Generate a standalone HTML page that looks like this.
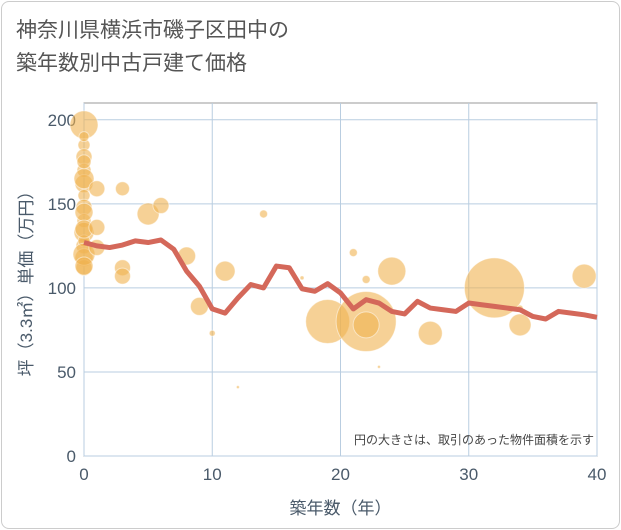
<!DOCTYPE html>
<html><head><meta charset="utf-8"><style>
body{margin:0;background:#fff;font-family:"Liberation Sans","Noto Sans CJK JP",sans-serif;}
#card{position:absolute;left:1px;top:1px;width:617px;height:526px;border:1px solid #ccc;border-radius:8px;background:#fff;}
#title{position:absolute;left:16px;top:14px;font-size:21px;line-height:33px;color:#555;}
</style></head><body>
<div id="card"></div>
<div id="title">神奈川県横浜市磯子区田中の<br>築年数別中古戸建て価格</div>
<svg id="chart" width="621" height="530" style="position:absolute;left:0;top:0"></svg>
<script>
const lineYears=[0,1,2,3,4,5,6,7,8,9,10,11,12,13,14,15,16,17,18,19,20,21,22,23,24,25,26,27,28,29,30,31,32,33,34,35,36,37,38,39,40];
const lineValues=[127,125,124,125.5,128,127,128.5,123,110,101,87.5,85,94,102,100,113,112,99.5,98,102.5,97,87.5,93,91,86,84.5,92,88,87,86,91,90,89,88,87,83,81.5,86,85,84,82.5];
const bubbleYears=[0,0,0,0,0,0,0,0,0,0,0,0,0,0,0,0,0,0,0,0,1,1,1,3,3,3,5,6,8,9,10,11,12,14,17,19,21,22,22,22,23,24,27,32,34,34,39];
const bubbleValues=[197,185,178,170,162,155,148,140,133,125,118,112,128,190,165,145,120,135,113,175,159,136,124,159,112,107,144,149,119,89,73,110,41,144,106,80,121,80,78,105,53,110,73,100,78,88,107];
const bubbleRadii=[14,6,8,7,9,6,8,7,10,8,9,8,6,5,10,9,11,9,9,7,8,8,8,7,8,8,11,8,9,9,3,10,1.5,4,2,22,4,30,13,4,1.5,14,12,30,11,3,12];
const xTicks=[0,10,20,30,40];
const yTicks=[0,50,100,150,200];
const L=84,R=597,T=103,B=456,XMAX=40,YMAX=210;
const sx=v=>L+v/XMAX*(R-L);
const sy=v=>B-v/YMAX*(B-T);
const svg=document.getElementById('chart');
const NS='http://www.w3.org/2000/svg';
function mk(tag,attrs){const e=document.createElementNS(NS,tag);for(const k in attrs)e.setAttribute(k,attrs[k]);svg.appendChild(e);return e;}
const bg=mk('rect',{x:L,y:T,width:R-L,height:B-T,fill:'#fff',stroke:'#999','stroke-width':1});


xTicks.forEach(t=>{
 const g=mk('line',{x1:sx(t),x2:sx(t),y1:T,y2:B,stroke:'#b9cde0','stroke-width':1});
 
 
 const tx=mk('text',{x:sx(t),y:B+24,'text-anchor':'middle','font-size':17,fill:'#4a5a6a'});
 tx.textContent=t;
 
 
});
yTicks.forEach(t=>{
 const g=mk('line',{x1:L,x2:R,y1:sy(t),y2:sy(t),stroke:'#b9cde0','stroke-width':1});
 
 
 const tx=mk('text',{x:L-8,y:sy(t)+6,'text-anchor':'end','font-size':17,fill:'#4a5a6a'});
 tx.textContent=t;
 
 
});
bubbleYears.forEach((yr,i)=>{
 const c=mk('circle',{cx:sx(yr),cy:sy(bubbleValues[i]),r:bubbleRadii[i],fill:'rgba(240,178,80,0.6)',stroke:'rgba(255,255,255,0.5)','stroke-width':1});
 
 
});
const pl=mk('polyline',{points:lineYears.map((y,i)=>sx(y)+','+sy(lineValues[i])).join(' '),fill:'none',stroke:'#d4685a','stroke-width':5,'stroke-linejoin':'round'});


const note=mk('text',{x:R-3,y:B-12,'text-anchor':'end','font-size':12,fill:'#444'});
note.textContent='円の大きさは、取引のあった物件面積を示す';


const xt=mk('text',{x:(L+R)/2,y:514,'text-anchor':'middle','font-size':17,fill:'#4a5a6a'});
xt.textContent='築年数（年）';


const yt=mk('text',{x:0,y:0,'text-anchor':'middle','font-size':17,fill:'#4a5a6a',transform:'translate(32,'+((T+B)/2)+') rotate(-90)'});
yt.textContent='坪（3.3㎡）単価（万円）';


</script>
</body></html>
